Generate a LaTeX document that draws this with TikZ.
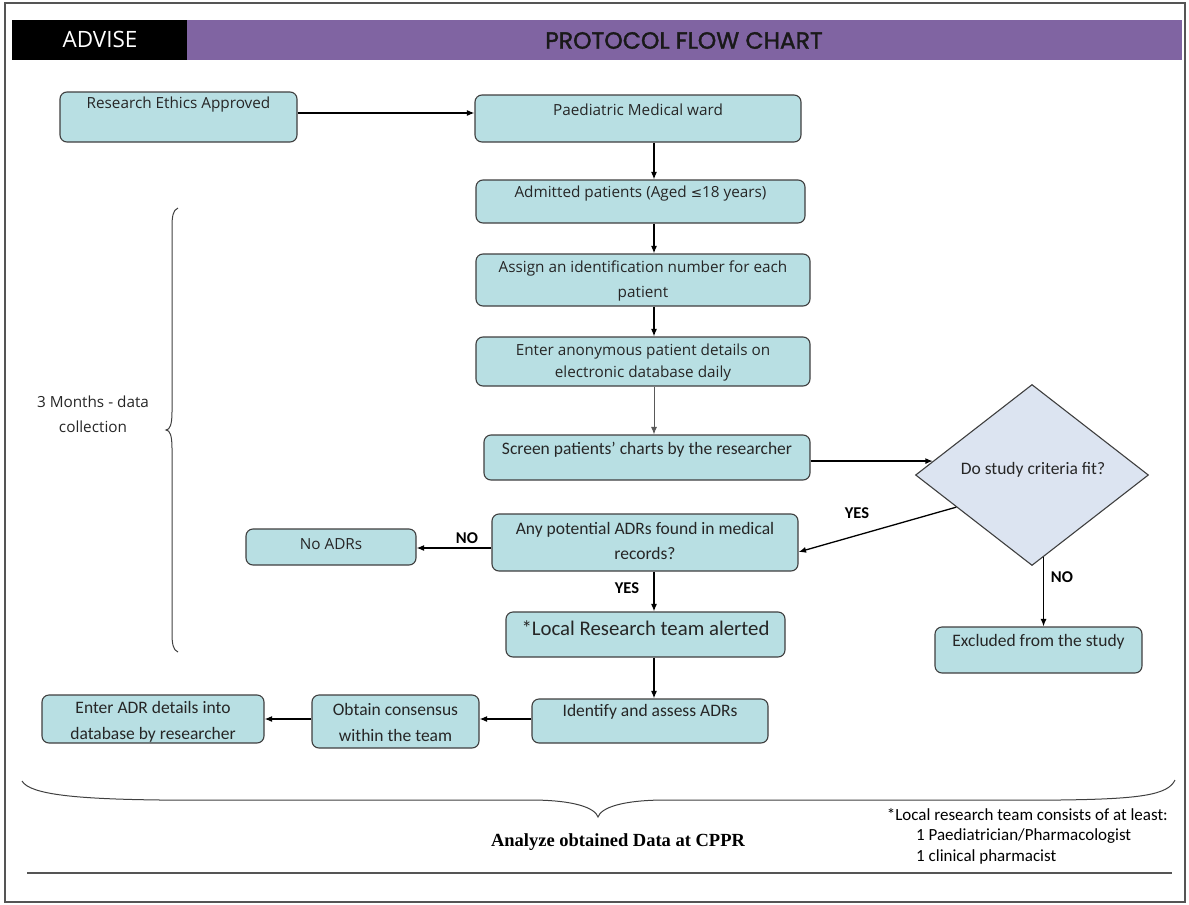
\documentclass[tikz,border=0pt]{standalone}
\usepackage{fontspec}
\usetikzlibrary{arrows.meta,shapes.geometric}
\newfontfamily\osans{Open Sans}
\newfontfamily\carl{Carlito}
\newfontfamily\pop{Poppins}[FakeBold=1.5]
\newfontfamily\lserif{Liberation Serif}
\newfontfamily\dejavu{DejaVu Sans}
\definecolor{boxfill}{HTML}{B8DFE3}
\definecolor{diafill}{HTML}{DCE4F1}
\definecolor{hdrpurple}{HTML}{8064A2}
\definecolor{boxline}{HTML}{3F3F3F}
\definecolor{frameline}{HTML}{555555}
\tikzset{
  box/.style={draw=boxline, fill=boxfill, rounded corners=7pt, line width=1.1pt, inner sep=0pt},
  osanstxt/.style={font={\osans\fontsize{15.3}{25}\selectfont}, align=center, inner sep=0pt, text=black!85},
  carltxt/.style={font={\carl\fontsize{17.5}{26}\selectfont}, align=center, inner sep=0pt, text=black!85},
  lbl/.style={font={\carl\bfseries\fontsize{16.5}{18}\selectfont}, inner sep=0pt},
  arr/.style={-{Latex[length=7.5pt,width=6pt]}, line width=1.3pt, draw=black},
  garr/.style={-{Latex[length=7.5pt,width=6pt]}, line width=1pt, draw=black!65},
  brace/.style={line width=1pt, draw=black!75}
}
\begin{document}
\begin{tikzpicture}[x=1pt,y=-1pt]
\useasboundingbox (0,0) rectangle (1189,905);
% frame
\draw[frameline, line width=1.5pt] (5,3) rectangle (1185,902);
% header
\fill[black] (12,20) rectangle (187,60);
\fill[hdrpurple] (187,20) rectangle (1182,60);
\node[font={\osans\fontsize{22.5}{24}\selectfont}, text=white, inner sep=0pt] (advise) at (100,39) {ADVISE};
\node[font={\pop\fontsize{23.5}{26}\selectfont}, text=black!90, inner sep=0pt] (title) at (684,40.5) {PROTOCOL FLOW CHART};

% boxes
\node[box, minimum width=237pt, minimum height=50pt] (ethics) at (178.5,117) {};
\node[osanstxt] (ethicsT) at (178.5,105) {Research Ethics Approved};
\node[box, minimum width=326pt, minimum height=47pt] (ward) at (638,118.5) {};
\node[osanstxt] (wardT) at (638,110) {Paediatric Medical ward};
\node[box, minimum width=329pt, minimum height=43pt] (admit) at (640.5,201.5) {};
\node[osanstxt] (admitT) at (640.5,194) {Admitted patients (Aged {\dejavu\fontsize{13.5}{14}\selectfont ≤}18 years)};
\node[box, minimum width=334pt, minimum height=52pt] (assign) at (643,280) {};
\node[osanstxt] (assignT) at (643,281) {Assign an identification number for each\\patient};
\node[box, minimum width=334pt, minimum height=49pt] (enter) at (643,361.5) {};
\node[osanstxt, font={\osans\fontsize{15.3}{22}\selectfont}] (enterT) at (643,363) {Enter anonymous patient details on\\electronic database daily};
\node[box, minimum width=326pt, minimum height=45pt] (screen) at (647,457.5) {};
\node[carltxt] (screenT) at (647,450) {Screen patients’ charts by the researcher};
\node[box, minimum width=306pt, minimum height=57pt] (any) at (645,542.5) {};
\node[carltxt, font={\carl\fontsize{17.5}{25}\selectfont}] (anyT) at (645,540.5) {Any potential ADRs found in medical\\records?};
\node[box, minimum width=170pt, minimum height=36pt] (noadr) at (331,547) {};
\node[osanstxt] (noadrT) at (331,544) {No ADRs};
\node[box, minimum width=279pt, minimum height=45pt] (local) at (645.5,634.5) {};
\node[carltxt, font={\carl\fontsize{20.8}{22}\selectfont}] (localT) at (645.5,628) {*Local Research team alerted};
\node[box, minimum width=207pt, minimum height=46pt] (excl) at (1038.5,650) {};
\node[carltxt] (exclT) at (1038.5,642) {Excluded from the study};
\node[box, minimum width=236pt, minimum height=44pt] (identify) at (650,721) {};
\node[carltxt] (identifyT) at (650,712) {Identify and assess ADRs};
\node[box, minimum width=167pt, minimum height=53pt] (obtain) at (395.5,721.5) {};
\node[carltxt] (obtainT) at (395.5,722) {Obtain consensus\\within the team};
\node[box, minimum width=222pt, minimum height=48pt] (enteradr) at (153,719) {};
\node[carltxt] (enteradrT) at (153,722) {Enter ADR details into\\database by researcher};

% diamond
\node[draw=boxline, fill=diafill, line width=1.1pt, shape=diamond, minimum width=233pt, minimum height=181pt, inner sep=0pt] (dia) at (1032,475) {};
\node[carltxt] (diaT) at (1033,470) {Do study criteria fit?};

% connectors
\coordinate (col) at (654,0);
\coordinate (r1) at (0,113);
\coordinate (rn) at (0,548);
\coordinate (rb) at (0,719);
\draw[arr] (ethics.east |- r1) -- (ward.west |- r1);
\draw[arr] (ward.south -| col) -- (admit.north -| col);
\draw[arr] (admit.south -| col) -- (assign.north -| col);
\draw[arr] (assign.south -| col) -- (enter.north -| col);
\draw[garr] (enter.south -| col) -- (screen.north -| col);
\draw[arr] (screen.east |- dia.172) -- (dia.172);
\draw[arr] (dia.203) -- ([yshift=-9.5pt]any.east);
\draw[arr] (dia.278) -- (dia.278 |- excl.north);
\draw[arr] (any.west |- rn) -- (noadr.east |- rn);
\draw[arr] (any.south -| col) -- (local.north -| col);
\draw[arr] (local.south -| col) -- (identify.north -| col);
\draw[arr] (identify.west |- rb) -- (obtain.east |- rb);
\draw[arr] (obtain.west |- rb) -- (enteradr.east |- rb);

% labels
\node[lbl] (noL) at (467,538) {NO};
\node[lbl] (yesD) at (857,513) {YES};
\node[lbl] (yesA) at (627,588) {YES};
\node[lbl] (noD) at (1062,577) {NO};

% left brace
\draw[brace] (178,208) .. controls (173,210) and (172,216) .. (172,228) -- (172,412)
  .. controls (172,424) and (170,430) .. (166,430)
  .. controls (170,430) and (172,436) .. (172,448) -- (172,632)
  .. controls (172,644) and (173,650) .. (178,652);
\node[osanstxt] (months) at (93,414.5) {3 Months - data\\collection};

% bottom brace
\draw[brace] (22,781) .. controls (30,795) and (80,799) .. (160,800) -- (530,800)
  .. controls (575,800) and (595,808) .. (598,817)
  .. controls (601,808) and (621,800) .. (666,800) -- (1060,800)
  .. controls (1140,799) and (1168,795) .. (1175,780);
\node[font={\lserif\bfseries\fontsize{18.5}{20}\selectfont}, inner sep=0pt] (analyze) at (618,842) {Analyze obtained Data at CPPR};

% footnote
\node[font={\carl\fontsize{17}{18}\selectfont}, anchor=east, inner sep=0pt] (foot1) at (1168,815) {*Local research team consists of at least:};
\node[font={\carl\fontsize{17}{18}\selectfont}, anchor=west, inner sep=0pt] (foot2) at (916,836) {1 Paediatrician/Pharmacologist};
\node[font={\carl\fontsize{17}{18}\selectfont}, anchor=west, inner sep=0pt] (foot3) at (916,857) {1 clinical pharmacist};

% bottom rule
\draw[frameline, line width=1.8pt] (27,873) -- (1172,873);
\end{tikzpicture}
\end{document}
